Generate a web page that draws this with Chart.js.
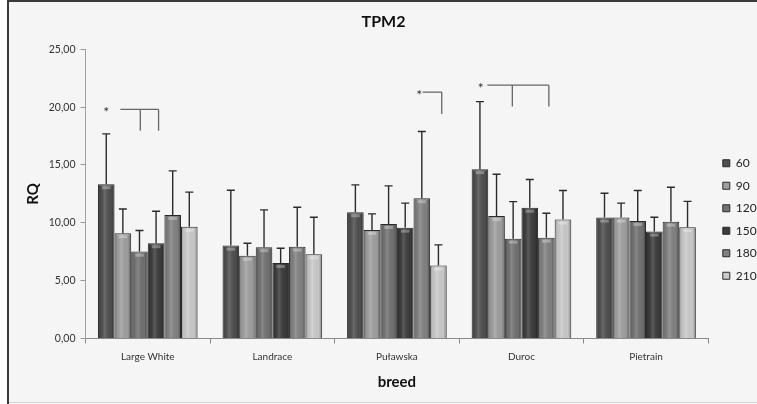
<!DOCTYPE html>
<html>
<head>
<meta charset="utf-8">
<script src="https://cdn.jsdelivr.net/npm/chart.js@4/dist/chart.umd.min.js"></script>
<style>
  html, body { margin: 0; padding: 0; background: #fff; overflow: hidden; }
  canvas { display: block; }
</style>
</head>
<body>
<canvas id="myChart" width="757" height="404"></canvas>
<script>
const breeds = ['Large White', 'Landrace', 'Puławska', 'Duroc', 'Pietrain'];
const days = ['60', '90', '120', '150', '180', '210'];

// mean RQ per breed, one array per age
const rq60  = [13.34, 8.03, 10.92, 14.64, 10.45];
const rq90  = [9.10, 7.16, 9.39, 10.60, 10.45];
const rq120 = [7.51, 7.89, 9.90, 8.63, 10.16];
const rq150 = [8.24, 6.53, 9.58, 11.31, 9.24];
const rq180 = [10.68, 7.94, 12.13, 8.72, 10.10];
const rq210 = [9.65, 7.28, 6.30, 10.28, 9.62];

// standard deviations (upper error bars)
const sd60  = [4.35, 4.79, 2.36, 5.84, 2.11];
const sd90  = [2.10, 1.08, 1.38, 3.60, 1.25];
const sd120 = [1.82, 3.23, 3.29, 3.20, 2.63];
const sd150 = [2.76, 1.27, 2.12, 2.43, 1.24];
const sd180 = [3.81, 3.41, 5.76, 2.11, 2.98];
const sd210 = [3.00, 3.20, 1.79, 2.51, 2.23];

// significance brackets: breed index, star bar, line start bar, drop bars, line value, drop end value
const sigBreed  = [0, 2, 3];
const sigStar   = [0, 3.85, 0.05];
const sigStart  = [0.85, 4.05, 0.45];
const sigDrops  = [[2.05, 3.15], [5.2], [1.95, 4.15]];
const sigTop    = [19.8, 21.3, 21.9];
const sigBottom = [17.95, 19.4, 20.05];

const yTicks = [0, 5, 10, 15, 20, 25];

const values = [rq60, rq90, rq120, rq150, rq180, rq210];
const errors = [sd60, sd90, sd120, sd150, sd180, sd210];
const colors = ['#4f4f4f', '#a0a0a0', '#727272', '#3c3c3c', '#828282', '#cbcbcb'];

const data = {
  labels: breeds,
  datasets: days.map((d, i) => ({
    label: d,
    data: values[i],
    backgroundColor: colors[i],
    borderColor: '#2a2a2a',
    borderWidth: 1,
    categoryPercentage: 0.8,
    barPercentage: 1.0
  }))
};

const decor = {
  id: 'decor',
  beforeDraw(chart) {
    const ctx = chart.ctx;
    ctx.save();
    ctx.fillStyle = '#ffffff';
    ctx.fillRect(0, 0, chart.width, chart.height);
    ctx.fillStyle = '#f5f5f5';
    ctx.fillRect(9, 2, chart.width - 9, 400);
    ctx.fillStyle = '#3a3a3a';
    ctx.fillRect(7, 0, 2, chart.height);
    ctx.fillRect(7, 0, chart.width - 7, 2);
    ctx.fillStyle = '#cfcfcf';
    ctx.fillRect(9, 402, chart.width - 9, 1);
    ctx.restore();
  },
  afterLayout(chart) {
    // nudge the legend to where the original puts it
    const l = chart.legend;
    l.left += 4; l.right += 4;
    l.top += 17.5; l.bottom += 17.5;
  },
  afterDatasetsDraw(chart) {
    const ctx = chart.ctx;
    const y = chart.scales.y;
    ctx.save();
    // shading on the bars
    chart.data.datasets.forEach((ds, i) => {
      chart.getDatasetMeta(i).data.forEach(bar => {
        const p = bar.getProps(['x', 'y', 'base', 'width'], true);
        const x0 = p.x - p.width / 2;
        const g = ctx.createLinearGradient(x0, 0, x0 + p.width, 0);
        g.addColorStop(0, 'rgba(0,0,0,0.35)');
        g.addColorStop(0.15, 'rgba(0,0,0,0.05)');
        g.addColorStop(0.4, 'rgba(255,255,255,0.16)');
        g.addColorStop(0.8, 'rgba(0,0,0,0.02)');
        g.addColorStop(1, 'rgba(0,0,0,0.4)');
        ctx.fillStyle = g;
        ctx.fillRect(x0 + 1, p.y + 1, p.width - 2, p.base - p.y - 1);
        ctx.fillStyle = 'rgba(255,255,255,0.3)';
        ctx.fillRect(x0 + 4, p.y + 2, p.width - 8, 3);
      });
    });
    // error bars
    ctx.strokeStyle = '#2b2b2b';
    ctx.lineWidth = 1.4;
    chart.data.datasets.forEach((ds, i) => {
      chart.getDatasetMeta(i).data.forEach((bar, j) => {
        const top = y.getPixelForValue(ds.data[j] + errors[i][j]);
        ctx.beginPath();
        ctx.moveTo(bar.x, bar.y);
        ctx.lineTo(bar.x, top);
        ctx.moveTo(bar.x - 4, top);
        ctx.lineTo(bar.x + 4, top);
        ctx.stroke();
      });
    });
    // significance brackets
    const meta0 = chart.getDatasetMeta(0);
    const bw = meta0.data[0].width;
    ctx.strokeStyle = '#666';
    ctx.lineWidth = 1.3;
    ctx.fillStyle = '#333';
    ctx.font = '14px Lato';
    ctx.textAlign = 'center';
    ctx.textBaseline = 'middle';
    sigBreed.forEach((b, k) => {
      const base = meta0.data[b].x;
      const yt = y.getPixelForValue(sigTop[k]);
      const yb = y.getPixelForValue(sigBottom[k]);
      const xs = sigDrops[k].map(d => base + d * bw);
      ctx.beginPath();
      ctx.moveTo(base + sigStart[k] * bw, yt);
      ctx.lineTo(Math.max(...xs), yt);
      xs.forEach(x => { ctx.moveTo(x, yt); ctx.lineTo(x, yb); });
      ctx.stroke();
      ctx.fillText('*', base + sigStar[k] * bw, yt + 3);
    });
    ctx.restore();
  }
};

const config = {
  type: 'bar',
  data,
  options: {
    responsive: false,
    animation: false,
    layout: { padding: { left: 10, right: 0, top: 0, bottom: 0 } },
    plugins: {
      title: {
        display: true,
        text: 'TPM2',
        color: '#111',
        font: { family: 'Lato', size: 16, weight: 'bold' },
        padding: { top: 12.4, bottom: 17.7 }
      },
      legend: {
        position: 'right',
        maxWidth: 48.7,
        labels: {
          boxWidth: 7,
          boxHeight: 7,
          padding: 10.5,
          color: '#222',
          font: { family: 'Lato', size: 12 }
        }
      },
      tooltip: { enabled: false }
    },
    scales: {
      x: {
        afterFit: s => { s.height = 65.5; },
        grid: { display: true, drawOnChartArea: false, offset: true, tickLength: 5, color: '#888' },
        border: { display: true, color: '#8a8a8a' },
        ticks: { color: '#333', padding: 7, font: { family: 'Lato', size: 10 } },
        title: {
          display: true,
          text: 'breed',
          color: '#111',
          font: { family: 'Lato', size: 15, weight: 'bold' },
          padding: { top: 4, bottom: 13.3 }
        }
      },
      y: {
        min: 0,
        max: 25,
        afterFit: s => { s.width = 75.5; },
        afterBuildTicks: s => { s.ticks = yTicks.map(v => ({ value: v })); },
        grid: { display: true, drawOnChartArea: false, tickLength: 5, color: '#999' },
        border: { display: true, color: '#a0a0a0' },
        ticks: {
          color: '#333',
          padding: 5,
          font: { family: 'Lato', size: 10.5 },
          callback: v => v.toFixed(2).replace('.', ',')
        },
        title: {
          display: true,
          text: 'RQ',
          color: '#111',
          font: { family: 'Lato', size: 15, weight: 'bold' },
          padding: { top: 14.5, bottom: 4 }
        }
      }
    }
  },
  plugins: [decor]
};

var myChart = new Chart(
  document.getElementById('myChart'),
  config
);
</script>
</body>
</html>
